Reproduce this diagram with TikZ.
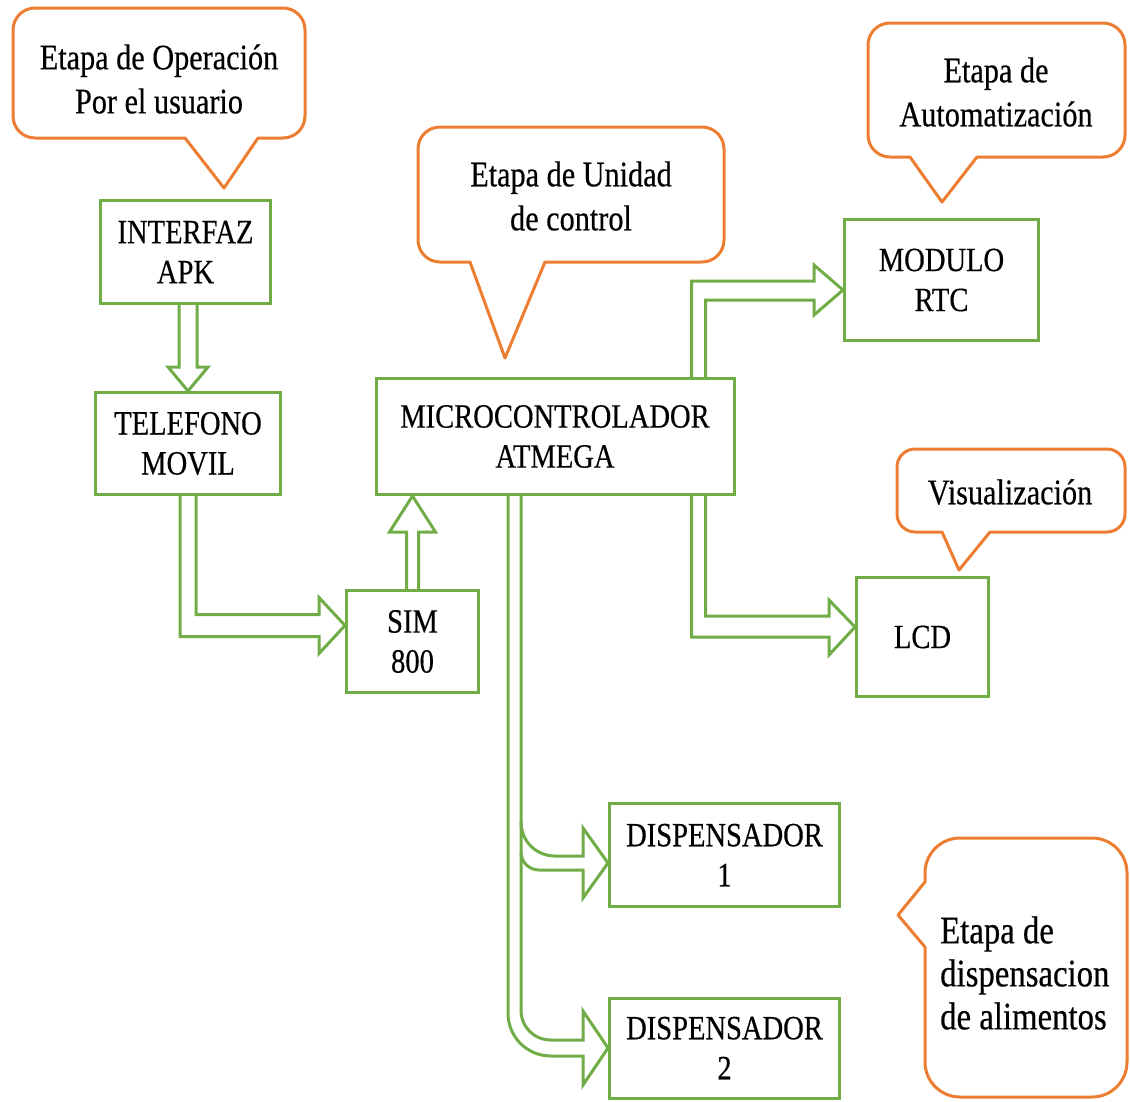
\documentclass[tikz,border=0pt]{standalone}
\usepackage{fontspec}
\setmainfont{Liberation Serif}[FakeStretch=0.84, UprightFeatures={FakeBold=0.4}]
\usetikzlibrary{calc}
\definecolor{boxgreen}{RGB}{112,173,71}
\definecolor{calloutorange}{RGB}{237,125,49}

\begin{document}
\begin{tikzpicture}[x=1pt,y=-1pt,
  block/.style={draw=boxgreen, line width=3pt, align=center, inner sep=0pt,
                font=\fontsize{34}{40}\selectfont},
  flow/.style={draw=boxgreen, line width=3pt, line join=miter},
  bubble/.style={draw=calloutorange, line width=3pt, fill=white, line join=round},
  bubbletext/.style={align=center, inner sep=0pt, font=\fontsize{36}{44}\selectfont}]

\useasboundingbox[fill=white] (0,0) rectangle (1130,1101);

% speech bubbles
\draw[bubble] (159,8) [rounded corners=22pt] -- (305,8) -- (305,138) [sharp corners]
  -- (258,138) -- (224,188) -- (185,138) [rounded corners=22pt] -- (13,138) -- (13,8) -- cycle;
\draw[bubble] (571,127) [rounded corners=22pt] -- (724,127) -- (724,262) [sharp corners]
  -- (545,262) -- (505,358) -- (470,262) [rounded corners=22pt] -- (418,262) -- (418,127) -- cycle;
\draw[bubble] (996,23) [rounded corners=22pt] -- (1125,23) -- (1125,157) [sharp corners]
  -- (977,157) -- (942,202) -- (910,157) [rounded corners=22pt] -- (868,157) -- (868,23) -- cycle;
\draw[bubble] (1011,449) [rounded corners=18pt] -- (1125,449) -- (1125,532) [sharp corners]
  -- (990,532) -- (959,570) -- (942,532) [rounded corners=18pt] -- (897,532) -- (897,449) -- cycle;
\draw[bubble] (1026,838) [rounded corners=35pt] -- (1127,838) -- (1127,1097) -- (925,1097) [sharp corners]
  -- (925,947) -- (898,915) -- (925,882) [rounded corners=35pt] -- (925,838) -- cycle;

\node[bubbletext] (c1) at (159,79) {Etapa de Operación\\Por el usuario};
\node[bubbletext] (c2) at (571,196) {Etapa de Unidad\\de control};
\node[bubbletext] (c3) at (996,92) {Etapa de\\Automatización};
\node[bubbletext] (c4) at (1010,492) {Visualización};
\node[bubbletext, align=left, anchor=west, font=\fontsize{39}{43}\selectfont] (c5) at (940,973)
  {Etapa de\\dispensacion\\de alimentos};

% blocks
\node[block, minimum width=170pt, minimum height=103pt] (api) at (185.5,252) {INTERFAZ\\APK};
\node[block, minimum width=185pt, minimum height=102pt] (tel) at (188,443.5) {TELEFONO\\MOVIL};
\node[block, minimum width=132pt, minimum height=102pt] (sim) at (412.5,641.5) {SIM\\800};
\node[block, minimum width=358pt, minimum height=116pt] (mcu) at (555,436.5) {MICROCONTROLADOR\\ATMEGA};
\node[block, minimum width=194pt, minimum height=121pt] (rtc) at (941.5,280) {MODULO\\RTC};
\node[block, minimum width=132pt, minimum height=119pt] (lcd) at (922.5,637) {LCD};
\node[block, minimum width=230pt, minimum height=103pt] (d1) at (724.5,855) {DISPENSADOR\\1};
\node[block, minimum width=230pt, minimum height=100pt] (d2) at (724.5,1048) {DISPENSADOR\\2};

% arrow tips that sit off the block centres
\coordinate (a2) at ($(sim.west)+(0,-16)$);
\coordinate (a4) at ($(rtc.west)+(0,10)$);
\coordinate (a5) at ($(lcd.west)+(0,-10)$);
\coordinate (a7) at ($(d1.west)+(0,8)$);

% hollow block arrows
\draw[flow] let \p1=(tel.north), \p2=(api.south) in
  (\x1-9pt,\y2) -- (\x1-9pt,\y1+24pt) -- (\x1-20pt,\y1+24pt) -- (\x1,\y1)
  -- (\x1+20pt,\y1+24pt) -- (\x1+9pt,\y1+24pt) -- (\x1+9pt,\y2);

\draw[flow] let \p1=(a2), \p2=(tel.south) in
  (\x2-8pt,\y2) -- (\x2-8pt,\y1-11pt) -- (\x1-26pt,\y1-11pt) -- (\x1-26pt,\y1-28pt) -- (\x1,\y1)
  -- (\x1-26pt,\y1+28pt) -- (\x1-26pt,\y1+11pt) -- (\x2+8pt,\y1+11pt) -- (\x2+8pt,\y2);

\draw[flow] let \p1=(sim.north |- mcu.south), \p2=(sim.north) in
  (\x1-6pt,\y2) -- (\x1-6pt,\y1-36pt) -- (\x1-23pt,\y1-36pt) -- (\x1,\y1)
  -- (\x1+23pt,\y1-36pt) -- (\x1+6pt,\y1-36pt) -- (\x1+6pt,\y2);

\draw[flow] let \p1=(a4), \p2=(mcu.north east) in
  (\x2-44pt,\y2) -- (\x2-44pt,\y1+9pt) -- (\x1-29pt,\y1+9pt) -- (\x1-29pt,\y1+25pt) -- (\x1,\y1)
  -- (\x1-29pt,\y1-25pt) -- (\x1-29pt,\y1-10pt) -- (\x2-30pt,\y1-10pt) -- (\x2-30pt,\y2);

\draw[flow] let \p1=(a5), \p2=(mcu.south east) in
  (\x2-44pt,\y2) -- (\x2-44pt,\y1-10pt) -- (\x1-26pt,\y1-10pt) -- (\x1-26pt,\y1-28pt) -- (\x1,\y1)
  -- (\x1-26pt,\y1+27pt) -- (\x1-26pt,\y1+11pt) -- (\x2-30pt,\y1+11pt) -- (\x2-30pt,\y2);

% bus down to the dispensers
\draw[flow] let \p1=(d2.west), \p2=(mcu.south) in
  (\x2-47pt,\y2) -- (508,1013) .. controls (508,1037) and (527,1056) .. (551,1056)
  -- (583,1056) -- (583,1085) -- (\x1,\y1) -- (583,1011) -- (583,1040) -- (551,1040)
  .. controls (534,1040) and (521,1027) .. (521,1010) -- (\x2-34pt,\y2);

\draw[flow] let \p1=(a7) in
  (521,822) .. controls (521,841) and (536,856) .. (555,856) -- (583,856) -- (583,828)
  -- (\x1,\y1) -- (583,898) -- (583,870) -- (539,870) .. controls (529,870) and (521,862) .. (521,852);

\end{tikzpicture}
\end{document}
